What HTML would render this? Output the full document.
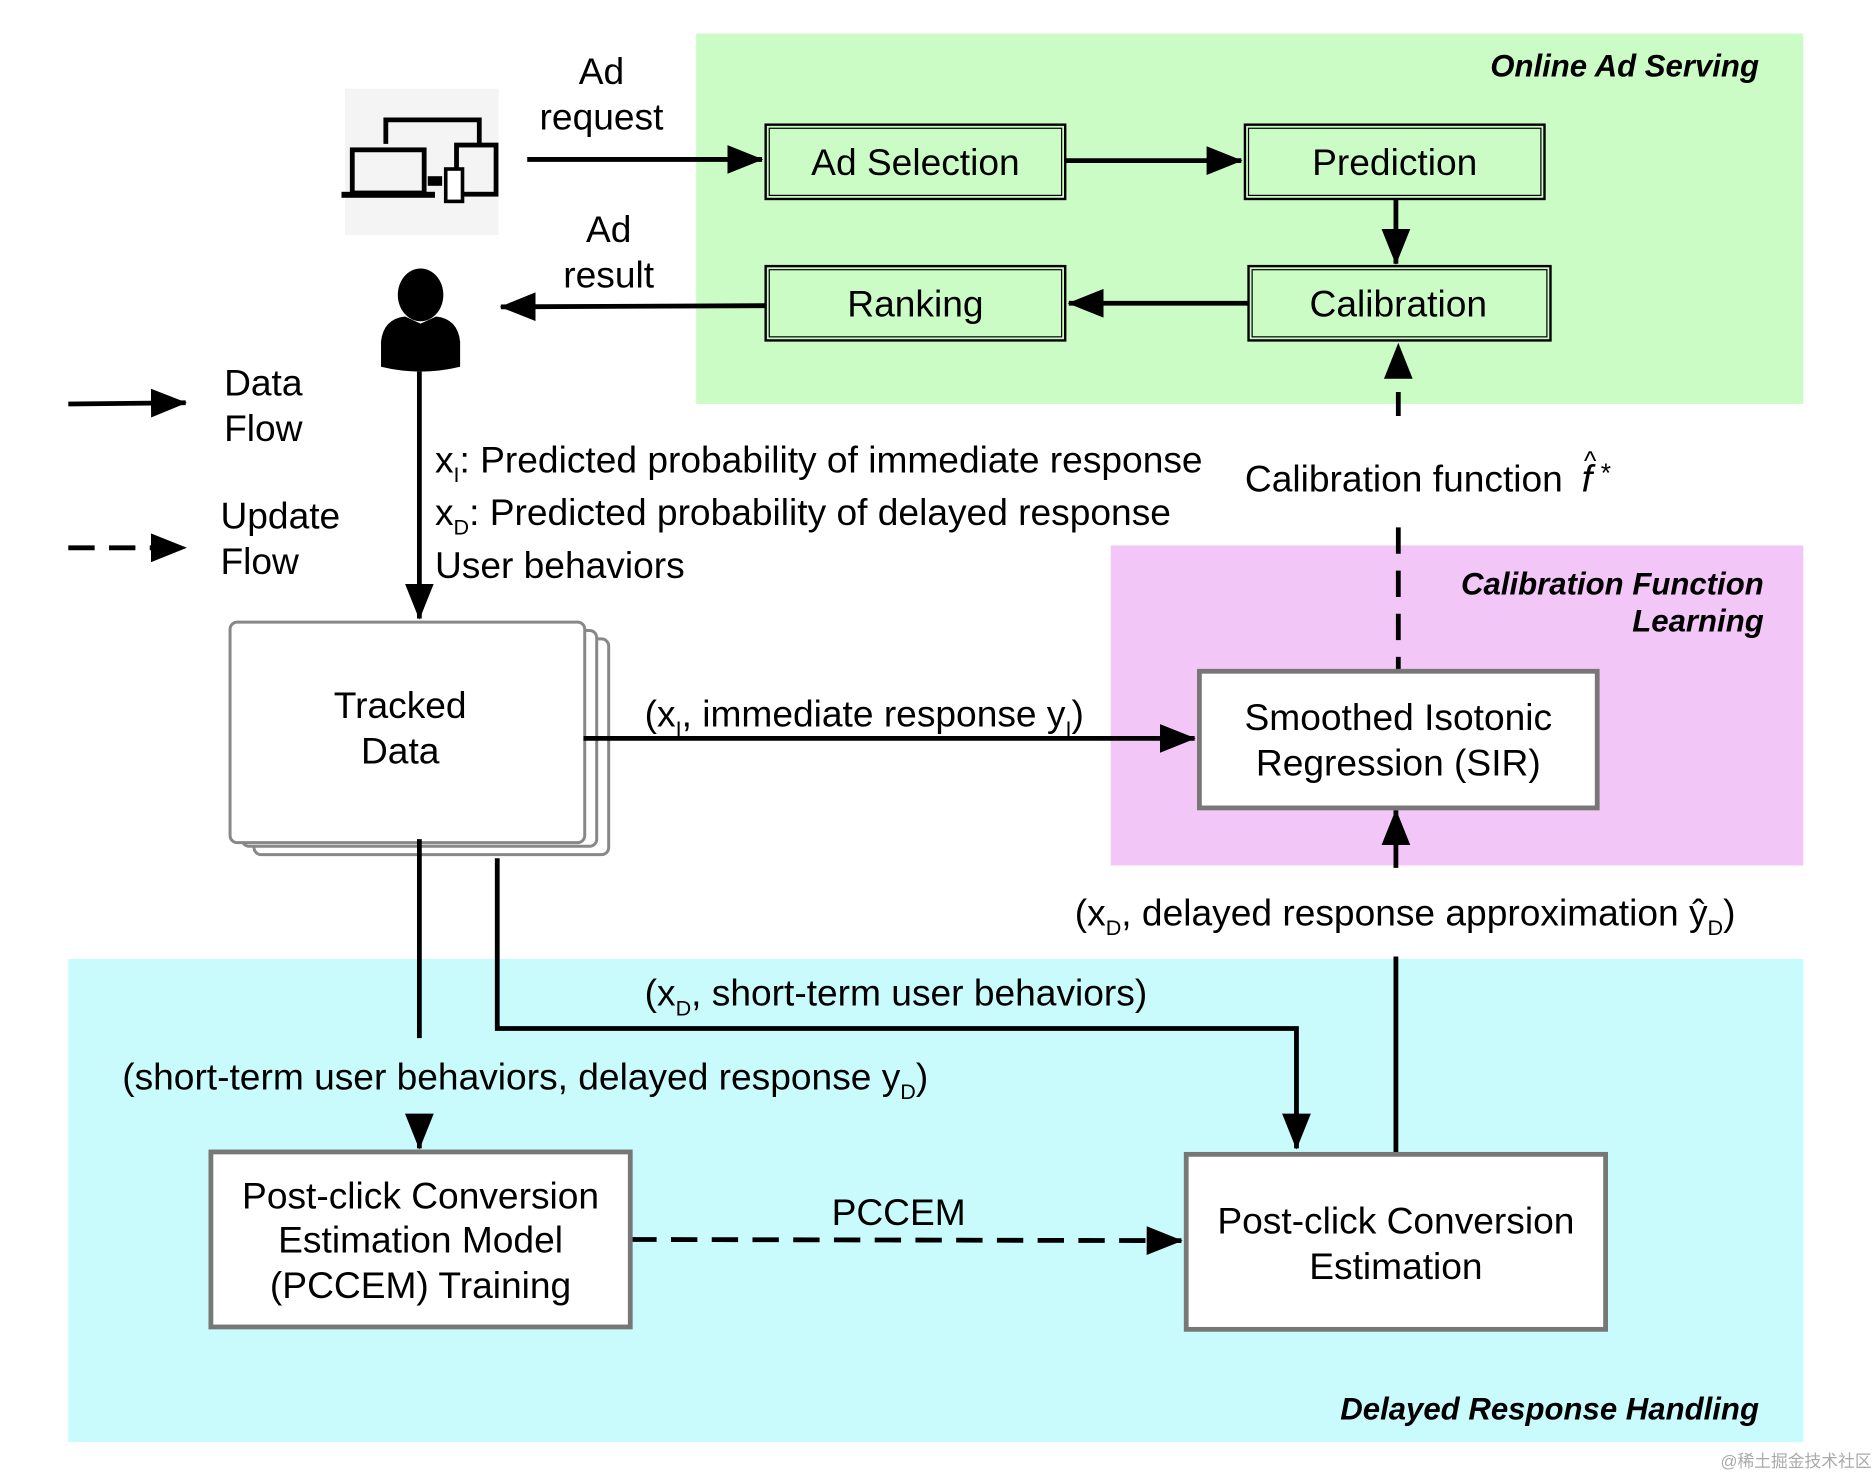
<!DOCTYPE html>
<html><head><meta charset="utf-8"><style>
html,body{margin:0;padding:0;background:#fff;}
svg{display:block;}
text{font-family:"Liberation Sans",sans-serif;fill:#000;}
.t{font-size:31px;}
.b{font-size:26px;font-weight:bold;font-style:italic;}
</style></head><body>
<svg width="1874" height="1472" viewBox="0 0 1564 1228" preserveAspectRatio="none" xmlns="http://www.w3.org/2000/svg">
<defs>
<marker id="A" markerWidth="30" markerHeight="24" refX="29" refY="12" orient="auto" markerUnits="userSpaceOnUse" viewBox="0 0 30 24"><path d="M0,0 L30,12 L0,24z" fill="#000"/></marker>
</defs>
<rect width="1564" height="1228" fill="#fff"/>
<rect x="581" y="28" width="924" height="309" fill="#ccfcc6"/>
<rect x="927" y="455" width="578" height="267" fill="#f2c6f6"/>
<rect x="57" y="800" width="1448" height="403" fill="#c9fbfc"/>
<text class="b" x="1468" y="64" text-anchor="end">Online Ad Serving</text>
<text class="b" x="1472" y="496" text-anchor="end">Calibration Function</text>
<text class="b" x="1472" y="527" text-anchor="end">Learning</text>
<text class="b" x="1468" y="1184" text-anchor="end">Delayed Response Handling</text>

<!-- top boxes -->
<g fill="none" stroke="#000">
<rect x="639" y="104" width="250" height="62" stroke-width="2"/><rect x="642" y="107" width="244" height="56" stroke-width="1"/>
<rect x="1039" y="104" width="250" height="62" stroke-width="2"/><rect x="1042" y="107" width="244" height="56" stroke-width="1"/>
<rect x="639" y="222" width="250" height="62" stroke-width="2"/><rect x="642" y="225" width="244" height="56" stroke-width="1"/>
<rect x="1042" y="222" width="252" height="62" stroke-width="2"/><rect x="1045" y="225" width="246" height="56" stroke-width="1"/>
</g>
<text class="t" x="764" y="146" text-anchor="middle">Ad Selection</text>
<text class="t" x="1164" y="146" text-anchor="middle">Prediction</text>
<text class="t" x="764" y="264" text-anchor="middle">Ranking</text>
<text class="t" x="1167" y="264" text-anchor="middle">Calibration</text>

<!-- tracked data stack -->
<g fill="#fff" stroke="#888" stroke-width="2.5">
<rect x="212" y="533" width="296" height="180" rx="6"/>
<rect x="202" y="526" width="296" height="180" rx="6"/>
<rect x="192" y="519" width="296" height="184" rx="6"/>
</g>
<text class="t" x="334" y="599" text-anchor="middle">Tracked</text>
<text class="t" x="334" y="637" text-anchor="middle">Data</text>

<g stroke="#000" stroke-width="4" fill="none">
<line x1="440" y1="133" x2="636" y2="133" marker-end="url(#A)"/>
<line x1="889" y1="134" x2="1036" y2="134" marker-end="url(#A)"/>
<line x1="1165" y1="166" x2="1165" y2="220" marker-end="url(#A)"/>
<line x1="1042" y1="253" x2="892" y2="253" marker-end="url(#A)"/>
<line x1="639" y1="255" x2="418" y2="256" marker-end="url(#A)"/>
<line x1="1167" y1="347" x2="1167" y2="287" stroke-dasharray="20 14" marker-end="url(#A)"/>
<line x1="1167" y1="440" x2="1167" y2="560" stroke-dasharray="22 14"/>
<line x1="350" y1="310" x2="350" y2="516" marker-end="url(#A)"/>
<line x1="487" y1="616" x2="997" y2="616" marker-end="url(#A)"/>
<line x1="1165" y1="962" x2="1165" y2="798"/>
<line x1="1165" y1="724" x2="1165" y2="676" marker-end="url(#A)"/>
<line x1="350" y1="700" x2="350" y2="866"/>
<line x1="350" y1="934" x2="350" y2="958" marker-end="url(#A)"/>
<polyline points="415,716 415,858 1082,858 1082,958" marker-end="url(#A)"/>
<line x1="526" y1="1034" x2="986" y2="1035" stroke-dasharray="22 12" marker-end="url(#A)"/>
<line x1="57" y1="337" x2="155" y2="336" marker-end="url(#A)"/>
<line x1="57" y1="457" x2="155" y2="457" stroke-dasharray="22 12" marker-end="url(#A)"/>
</g>

<!-- device icon -->
<rect x="288" y="74" width="128" height="122" fill="#f4f4f4"/>
<g stroke="#000" stroke-width="4" fill="none">
<polyline points="322,120 322,100 400,100 400,122"/>
<rect x="294" y="125" width="60" height="36"/>
<rect x="381" y="121" width="33" height="41"/>
<rect x="372" y="141" width="14" height="27" fill="#fff" stroke-width="3"/>
</g>
<rect x="285" y="160" width="78" height="5" fill="#000"/>
<rect x="357" y="147" width="12" height="8" fill="#000"/>
<!-- person -->
<ellipse cx="351" cy="246" rx="19" ry="22" fill="#000"/>
<path d="M318,306 L318,285 Q320,266 338,264 L351,270 L364,264 Q382,266 384,285 L384,306 Q351,314 318,306z" fill="#000"/>

<text class="t" x="502" y="70" text-anchor="middle">Ad</text>
<text class="t" x="502" y="108" text-anchor="middle">request</text>
<text class="t" x="508" y="202" text-anchor="middle">Ad</text>
<text class="t" x="508" y="240" text-anchor="middle">result</text>
<text class="t" x="187" y="330">Data</text>
<text class="t" x="187" y="368">Flow</text>
<text class="t" x="184" y="441">Update</text>
<text class="t" x="184" y="479">Flow</text>

<text class="t" x="363" y="394">x<tspan font-size="18" dy="8">I</tspan><tspan dy="-8">: Predicted probability of immediate response</tspan></text>
<text class="t" x="363" y="438">x<tspan font-size="18" dy="8">D</tspan><tspan dy="-8">: Predicted probability of delayed response</tspan></text>
<text class="t" x="363" y="482">User behaviors</text>
<text class="t" x="1039" y="410">Calibration function</text>
<text x="1320" y="410" font-size="32" font-family="Liberation Serif" font-style="italic">f</text>
<text x="1322" y="392" font-size="22" font-family="Liberation Serif">^</text>
<text x="1336" y="402" font-size="22">*</text>

<text class="t" x="538" y="606">(x<tspan font-size="18" dy="8">I</tspan><tspan dy="-8">, immediate response y</tspan><tspan font-size="18" dy="8">I</tspan><tspan dy="-8">)</tspan></text>

<rect x="1001" y="560" width="332" height="114" fill="#fff" stroke="#777" stroke-width="4"/>
<text class="t" x="1167" y="609" text-anchor="middle">Smoothed Isotonic</text>
<text class="t" x="1167" y="647" text-anchor="middle">Regression (SIR)</text>

<text class="t" x="897" y="772">(x<tspan font-size="18" dy="8">D</tspan><tspan dy="-8">, delayed response approximation ŷ</tspan><tspan font-size="18" dy="8">D</tspan><tspan dy="-8">)</tspan></text>
<text class="t" x="538" y="839">(x<tspan font-size="18" dy="8">D</tspan><tspan dy="-8">, short-term user behaviors)</tspan></text>
<text class="t" x="102" y="909">(short-term user behaviors, delayed response y<tspan font-size="18" dy="8">D</tspan><tspan dy="-8">)</tspan></text>

<rect x="176" y="961" width="350" height="146" fill="#fff" stroke="#777" stroke-width="4"/>
<text class="t" x="351" y="1008" text-anchor="middle">Post-click Conversion</text>
<text class="t" x="351" y="1045" text-anchor="middle">Estimation Model</text>
<text class="t" x="351" y="1083" text-anchor="middle">(PCCEM) Training</text>
<rect x="990" y="963" width="350" height="146" fill="#fff" stroke="#777" stroke-width="4"/>
<text class="t" x="1165" y="1029" text-anchor="middle">Post-click Conversion</text>
<text class="t" x="1165" y="1067" text-anchor="middle">Estimation</text>
<text class="t" x="750" y="1022" text-anchor="middle">PCCEM</text>
<text x="1562" y="1224" text-anchor="end" font-size="14" style="fill:#aaa" font-family="'Noto Sans CJK SC',sans-serif">@稀土掘金技术社区</text>
</svg>
</body></html>
